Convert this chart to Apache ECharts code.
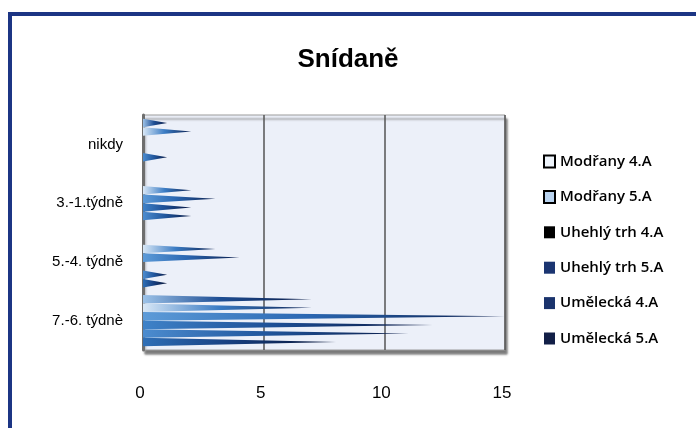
<!DOCTYPE html>
<html>
<head>
<meta charset="utf-8">
<script src="https://cdn.jsdelivr.net/npm/echarts@6/dist/echarts.min.js"></script>
<style>
html,body{margin:0;padding:0;background:#fff;}
#chart{width:696px;height:428px;}
</style>
</head>
<body>
<div id="chart"></div>
<script>
// Categories, bottom to top as drawn
const categories = ['7.-6. týdnè', '5.-4. týdně', '3.-1.týdně', 'nikdy'];
const xTicks = [0, 5, 10, 15];

// Series values, in category order above
const modrany4A = [8, 1, 0, 0];
const modrany5A = [11, 1, 2, 1];
const uhelny4A = [12, 0, 2, 0];
const uhelny5A = [15, 4, 3, 0];
const umelecka4A = [7, 3, 2, 2];
const umelecka5A = [7, 0, 0, 1];

const legendNames = ['Modřany 4.A', 'Modřany 5.A', 'Uhehlý trh 4.A', 'Uhehlý trh 5.A', 'Umělecká 4.A', 'Umělecká 5.A'];

const FONT = "'Liberation Sans', Arial, sans-serif";
const LEGEND_FONT = "'Open Sans', 'Liberation Sans', sans-serif";

function cone(start, mid, end) {
  return {
    type: 'linear', x: 0, y: 0, x2: 1, y2: 0,
    colorStops: [
      { offset: 0, color: start },
      { offset: 0.45, color: mid },
      { offset: 1, color: end }
    ]
  };
}

// Drawn top-to-bottom inside each band
const seriesDefs = [
  { name: legendNames[5], data: umelecka5A, color: cone('#9cc2e8', '#1f4f95', '#0a1a45') },
  { name: legendNames[4], data: umelecka4A, color: cone('#d8e7f6', '#3b7cc4', '#0b1f4f') },
  { name: legendNames[3], data: uhelny5A, color: cone('#5d9bd8', '#2b68b3', '#0a1c4a') },
  { name: legendNames[2], data: uhelny4A, color: cone('#3f82c8', '#1d4f96', '#081640') },
  { name: legendNames[1], data: modrany5A, color: cone('#4c8ccf', '#21579e', '#0a1a45') },
  { name: legendNames[0], data: modrany4A, color: cone('#2f6fb6', '#173f80', '#061334') }
];

const legendStyles = {
  'Modřany 4.A': { color: '#eef4fb', borderColor: '#000', borderWidth: 2 },
  'Modřany 5.A': { color: '#b9d3ef', borderColor: '#000', borderWidth: 2 },
  'Uhehlý trh 4.A': { color: '#000000' },
  'Uhehlý trh 5.A': { color: '#1b3571' },
  'Umělecká 4.A': { color: '#1a336c' },
  'Umělecká 5.A': { color: '#121f47' }
};

const chart = echarts.init(document.getElementById('chart'), null, { renderer: 'canvas' });

chart.setOption({
  backgroundColor: '#ffffff',
  animation: false,
  title: {
    text: 'Snídaně',
    left: 'center',
    top: 42,
    textStyle: { fontFamily: FONT, fontWeight: 'bold', fontSize: 26, color: '#000' }
  },
  graphic: [
    { type: 'rect', shape: { x: 8, y: 12, width: 688, height: 4 }, style: { fill: '#1c3584' } },
    { type: 'rect', shape: { x: 8, y: 12, width: 4, height: 416 }, style: { fill: '#1c3584' } }
  ],
  legend: {
    orient: 'vertical',
    left: 538,
    top: 149,
    icon: 'rect',
    itemWidth: 11,
    itemHeight: 12,
    itemGap: 20.4,
    textStyle: { fontFamily: LEGEND_FONT, fontSize: 15, fontWeight: 600, color: '#000' },
    data: legendNames.map(n => ({ name: n, itemStyle: legendStyles[n] }))
  },
  grid: {
    left: 143, right: 191, top: 115, bottom: 78,
    show: true,
    backgroundColor: '#ecf0f9',
    borderColor: '#9a9a9a',
    borderWidth: 1,
    shadowColor: 'rgba(90,90,90,0.8)',
    shadowOffsetX: 2,
    shadowOffsetY: 4,
    shadowBlur: 2
  },
  xAxis: {
    type: 'value',
    min: xTicks[0],
    max: xTicks[xTicks.length - 1],
    interval: 5,
    axisLine: { show: false },
    axisTick: { show: false },
    splitLine: { show: true, lineStyle: { color: '#555', width: 1.5 } },
    axisLabel: { margin: 35, fontFamily: FONT, fontSize: 17, color: '#000', padding: [0, 6, 0, 0] }
  },
  yAxis: {
    type: 'category',
    data: categories,
    axisLine: { show: true, lineStyle: { color: '#6e6e6e', width: 3 } },
    axisTick: { show: false },
    axisLabel: { margin: 20, fontFamily: FONT, fontSize: 15, color: '#000' }
  },
  series: seriesDefs.map(s => ({
    type: 'pictorialBar',
    name: s.name,
    data: s.data,
    symbol: 'path://M0,0 L10,5 L0,10 Z',
    symbolSize: ['100%', '100%'],
    symbolPosition: 'start',
    symbolRepeat: false,
    barGap: '0%',
    barCategoryGap: '13%',
    itemStyle: { color: s.color }
  }))
});
</script>
</body>
</html>
